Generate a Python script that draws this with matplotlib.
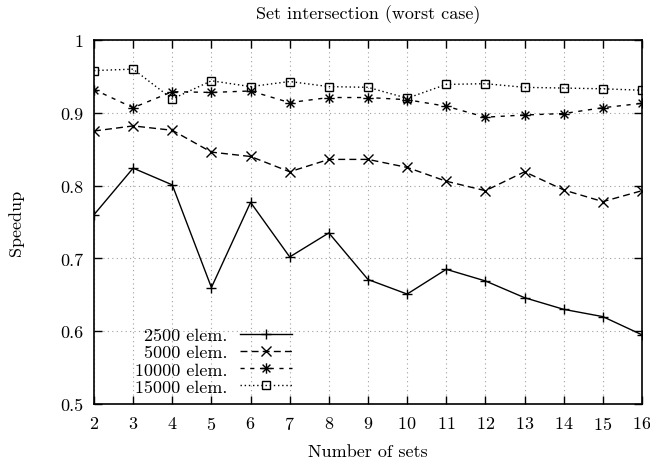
import matplotlib
matplotlib.use("Agg")
import matplotlib.pyplot as plt
from matplotlib.path import Path

plt.rcParams['font.family'] = ['cmr10', 'DejaVu Serif']
plt.rcParams['mathtext.fontset'] = 'cm'
plt.rcParams['axes.formatter.use_mathtext'] = True

num_sets = [2, 3, 4, 5, 6, 7, 8, 9, 10, 11, 12, 13, 14, 15, 16]
s2500 = [0.760, 0.824, 0.801, 0.660, 0.777, 0.702, 0.735, 0.671, 0.651, 0.685, 0.669, 0.646, 0.630, 0.620, 0.595]
s5000 = [0.875, 0.882, 0.876, 0.846, 0.840, 0.819, 0.836, 0.836, 0.825, 0.806, 0.793, 0.819, 0.794, 0.778, 0.793]
s10000 = [0.932, 0.907, 0.929, 0.928, 0.930, 0.914, 0.921, 0.921, 0.918, 0.909, 0.894, 0.897, 0.899, 0.907, 0.913]
s15000 = [0.958, 0.960, 0.919, 0.944, 0.936, 0.943, 0.936, 0.935, 0.920, 0.939, 0.940, 0.935, 0.934, 0.933, 0.931]
labels = ["2500 elem.", "5000 elem.", "10000 elem.", "15000 elem."]
yticks = [0.5, 0.6, 0.7, 0.8, 0.9, 1.0]
ytick_labels = ["0.5", "0.6", "0.7", "0.8", "0.9", "1"]

star = Path([(-1, 0), (1, 0), (0, -1), (0, 1), (-0.75, -0.75), (0.75, 0.75), (-0.75, 0.75), (0.75, -0.75)],
            [Path.MOVETO, Path.LINETO] * 4)

FS = 13
fig = plt.figure(figsize=(6.5, 4.64), dpi=100)
ax = fig.add_axes([0.1446, 0.1272, 0.8431, 0.7844])

ax.plot(num_sets, s2500, color='black', lw=1.0, ls='-', marker='+', ms=7.5, mew=1.0, label=labels[0])
ax.plot(num_sets, s5000, color='black', lw=1.0, ls=(0, (5, 3)), marker='x', ms=6.5, mew=1.0, label=labels[1])
ax.plot(num_sets, s10000, color='black', lw=1.0, ls=(0, (3, 4)), marker=star, ms=7.5, mew=1.0, label=labels[2])
ax.plot(num_sets, s15000, color='black', lw=1.0, ls=(0, (1, 2)), marker='s', ms=6, mew=1.0,
        fillstyle='none', label=labels[3])

ax.set_xlim(2, 16)
ax.set_ylim(0.5, 1.0)
ax.set_xticks(num_sets)
ax.set_yticks(yticks)
ax.set_yticklabels(ytick_labels)
ax.tick_params(direction='in', top=True, right=True, length=6, width=1.0, labelsize=FS, pad=8)
for s in ax.spines.values():
    s.set_linewidth(1.2)
ax.grid(True, color='#a0a0a0', ls=(0, (1, 3)), lw=0.8)

ax.set_title("Set intersection (worst case)", fontsize=FS, pad=16)
ax.set_xlabel("Number of sets", fontsize=FS, labelpad=8)
ax.set_ylabel("Speedup", fontsize=FS)
ax.yaxis.set_label_coords(-0.127, 0.5)

leg = ax.legend(loc='lower right', bbox_to_anchor=(0.378, 0.001), frameon=False, markerfirst=False,
                fontsize=FS, handlelength=2.9, labelspacing=0.08, handletextpad=0.7, borderpad=0.0)

fig.savefig("out.png", dpi=100)
